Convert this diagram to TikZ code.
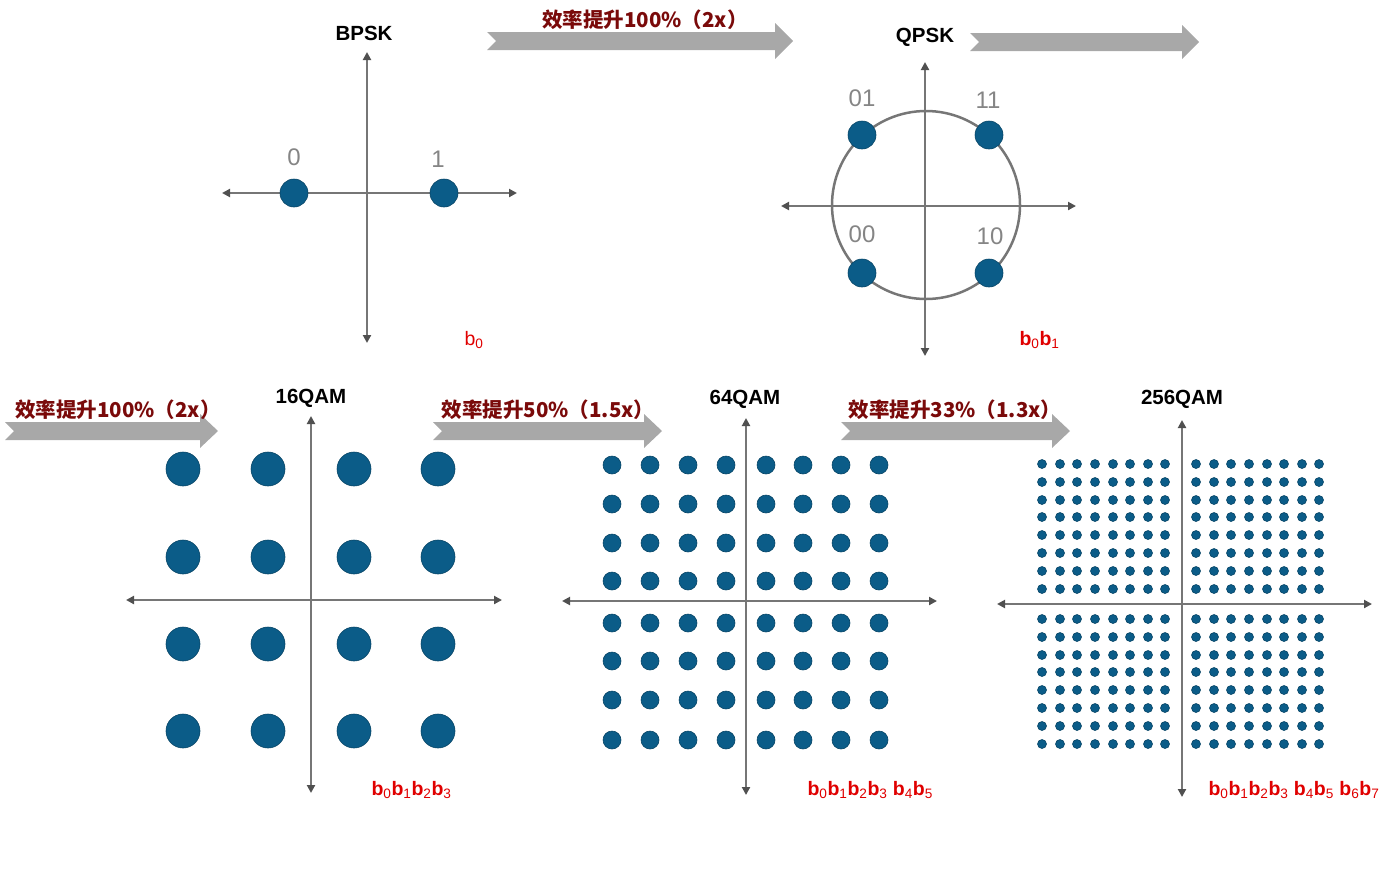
\documentclass[tikz,border=0pt]{standalone}
\usepackage{fontspec}
\setmainfont{Liberation Sans}
\newfontfamily\cjk{Noto Sans CJK SC}
\usetikzlibrary{arrows.meta}
\definecolor{dotblue}{HTML}{0B5C88}
\definecolor{axisgray}{HTML}{767676}
\definecolor{tipgray}{HTML}{505050}
\definecolor{labelgray}{HTML}{858585}
\definecolor{gainred}{HTML}{7A0A0A}
\definecolor{bitred}{HTML}{E00000}
\definecolor{bandgray}{HTML}{A8A8A8}
\newcommand{\bsub}[1]{b\textsubscript{\mdseries#1}}

\begin{document}
\begin{tikzpicture}[x=1pt, y=-1pt,
    axis/.style={draw=axisgray, line width=2.5pt, {Triangle[length=8pt,width=8pt,color=tipgray]}-{Triangle[length=8pt,width=8pt,color=tipgray]}},
    ring/.style={circle, draw=axisgray, line width=2.5pt, inner sep=0pt, minimum size=#1},
    dot/.style={circle, fill=dotblue, draw=dotblue!75!black, line width=0.6pt, inner sep=0pt, minimum size=#1},
    title/.style={font=\bfseries\fontsize{20.5}{22}\selectfont},
    bits/.style={text=labelgray, font=\fontsize{24}{26}\selectfont},
    code/.style={text=bitred, anchor=west, font=\bfseries\fontsize{19.5}{21}\selectfont},
    gain/.style={text=gainred, font=\cjk\bfseries\fontsize{20.5}{22}\selectfont},
    band/.style={fill=bandgray, draw=none}
]
\useasboundingbox (0,0) rectangle (1394,871);

% efficiency arrows
\draw[band] (487,32) -- (775,32) -- (775,23) -- (793,41) -- (775,59) -- (775,50) -- (487,50) -- (496,41) -- cycle;
\draw[band] (970,33) -- (1182,33) -- (1182,25) -- (1199,42) -- (1182,59) -- (1182,51) -- (970,51) -- (979,42) -- cycle;
\draw[band] (5,422) -- (200,422) -- (200,414) -- (218,431) -- (200,448) -- (200,440) -- (5,440) -- (14,431) -- cycle;
\draw[band] (433,422) -- (644,422) -- (644,414) -- (662,431) -- (644,448) -- (644,440) -- (433,440) -- (442,431) -- cycle;
\draw[band] (841,422) -- (1052,422) -- (1052,414) -- (1070,431) -- (1052,448) -- (1052,440) -- (841,440) -- (850,431) -- cycle;
\node[gain] (gainA) at (645,20) {效率提升100\%（2x）};
\node[gain] (gainB) at (118,410) {效率提升100\%（2x）};
\node[gain] (gainC) at (548,410) {效率提升50\%（1.5x）};
\node[gain] (gainD) at (955,410) {效率提升33\%（1.3x）};

% BPSK
\node[title] (bpsk) at (364,33) {BPSK};
\coordinate (bpskW) at (222,193);
\coordinate (bpskE) at (517,193);
\coordinate (bpskN) at (367,52);
\coordinate (bpskS) at (367,343);
\draw[axis] (bpskW) -- (bpskE);
\draw[axis] (bpskN) -- (bpskS);
\node[dot=28pt] (b0) at (294,193) {};
\node[dot=28pt] (b1) at (444,193) {};
\node[bits] (lab0) at (294,157) {0};
\node[bits] (lab1) at (438,159) {1};
\node[code, font=\fontsize{19.5}{21}\selectfont] (bpskcode) at (461,340) {\bsub{0}};

% QPSK
\node[title] (qpsk) at (925,37) {QPSK};
\node[ring=188pt] (qpskring) at (926,205) {};
\coordinate (qpskW) at (781,206);
\coordinate (qpskE) at (1076,206);
\coordinate (qpskN) at (925,62);
\coordinate (qpskS) at (925,356);
\draw[axis] (qpskW) -- (qpskE);
\draw[axis] (qpskN) -- (qpskS);
\node[dot=28pt] (q01) at (862,135) {};
\node[dot=28pt] (q11) at (989,135) {};
\node[dot=28pt] (q00) at (862,273) {};
\node[dot=28pt] (q10) at (989,273) {};
\node[bits, font=\fontsize{24}{26}\selectfont] (lab01) at (862,98) {01};
\node[bits, font=\fontsize{24}{26}\selectfont] (lab11) at (988,100) {11};
\node[bits, font=\fontsize{24}{26}\selectfont] (lab00) at (862,234) {00};
\node[bits, font=\fontsize{24}{26}\selectfont] (lab10) at (990,236) {10};
\node[code] (qpskcode) at (1016,340) {\bsub{0}\bsub{1}};

% 16QAM
\node[title] (qam16) at (311,398) {16QAM};
\coordinate (q16W) at (126,600);
\coordinate (q16E) at (502,600);
\coordinate (q16N) at (311,416);
\coordinate (q16S) at (311,793);
\draw[axis] (q16W) -- (q16E);
\draw[axis] (q16N) -- (q16S);
\foreach \x [count=\i] in {183,268,354,438}
  \foreach \y [count=\j] in {469,557,644,731}
    \node[dot=34pt] (s16-\i-\j) at (\x,\y) {};
\node[code] (qam16code) at (368,790) {\bsub{0}\bsub{1}\bsub{2}\bsub{3}};

% 64QAM
\node[title] (qam64) at (745,399) {64QAM};
\coordinate (q64W) at (562,601);
\coordinate (q64E) at (937,601);
\coordinate (q64N) at (746,418);
\coordinate (q64S) at (746,795);
\draw[axis] (q64W) -- (q64E);
\draw[axis] (q64N) -- (q64S);
\foreach \x [count=\i] in {612,650,688,726,766,803,841,879}
  \foreach \y [count=\j] in {465,504,543,581,623,661,700,740}
    \node[dot=18pt] (s64-\i-\j) at (\x,\y) {};
\node[code] (qam64code) at (804,790) {\bsub{0}\bsub{1}\bsub{2}\bsub{3} \bsub{4}\bsub{5}};

% 256QAM
\node[title] (qam256) at (1182,399) {256QAM};
\coordinate (q256W) at (997,604);
\coordinate (q256E) at (1372,604);
\coordinate (q256N) at (1182,420);
\coordinate (q256S) at (1182,797);
\draw[axis] (q256W) -- (q256E);
\draw[axis] (q256N) -- (q256S);
\foreach \x [count=\i] in {1042,1060,1077,1095,1113,1130,1148,1165,1196,1214,1231,1249,1267,1284,1302,1319}
  \foreach \y [count=\j] in {464,482,500,517,535,553,571,589,619,637,655,672,690,708,726,744}
    \node[dot=9pt] (s256-\i-\j) at (\x,\y) {};
\node[code] (qam256code) at (1205,790) {\bsub{0}\bsub{1}\bsub{2}\bsub{3} \bsub{4}\bsub{5} \bsub{6}\bsub{7}};
\end{tikzpicture}
\end{document}
